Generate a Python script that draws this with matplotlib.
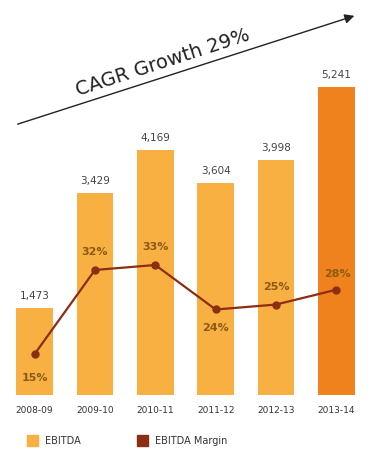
import matplotlib.pyplot as plt
from matplotlib.patches import Rectangle, FancyArrowPatch

# EBITDA (Rs. crore) and EBITDA margin (%) by financial year
years = ['2008-09', '2009-10', '2010-11', '2011-12', '2012-13', '2013-14']
ebitda = [1473, 3429, 4169, 3604, 3998, 5241]
margin = [15, 32, 33, 24, 25, 28]
ebitda_labels = ['1,473', '3,429', '4,169', '3,604', '3,998', '5,241']
margin_labels = ['15%', '32%', '33%', '24%', '25%', '28%']

BAR = '#F9B043'
BAR_LAST = '#F0821E'
LINE = '#8B2E14'
PCT = '#8A5A14'


def main():
    fig = plt.figure(figsize=(3.7, 4.62), dpi=100)
    ax = fig.add_axes([4.5 / 370, 67 / 462, 362 / 370, 385 / 462])
    ax2 = ax.twinx()

    x = list(range(len(years)))
    colors = [BAR] * (len(years) - 1) + [BAR_LAST]
    ax.bar(x, ebitda, width=0.61, color=colors, zorder=1)
    for xi, v, lab in zip(x, ebitda, ebitda_labels):
        ax.annotate(lab, (xi, v), xytext=(0, 5), textcoords='offset points',
                    ha='center', va='bottom', fontsize=7.5, color='#444444')
    ax.set_xlim(-0.5, 5.5)
    ax.set_ylim(0, 6548)

    ax2.plot(x, margin, color=LINE, lw=1.6, marker='o', ms=5, zorder=3)
    # label offsets (points) so the percentages sit clear of the line
    offsets = [(0, -17), (0, 13), (0, 13), (0, -13), (0, 13), (1, 11)]
    for xi, v, lab, off in zip(x, margin, margin_labels, offsets):
        ax2.annotate(lab, (xi, v), xytext=off, textcoords='offset points',
                     ha='center', va='center', fontsize=8, fontweight='bold',
                     color=PCT)
    ax2.set_ylim(6.7, 84.6)

    for a in (ax, ax2):
        for s in a.spines.values():
            s.set_visible(False)
        a.set_yticks([])
    ax.set_xticks(x)
    ax.set_xticklabels(years, fontsize=6.5, color='#333333')
    ax.tick_params(axis='x', length=0, pad=8)

    # growth arrow across the top
    fig.patches.append(FancyArrowPatch(
        (15 / 370, 1 - 125 / 462), (357 / 370, 1 - 15 / 462),
        transform=fig.transFigure, arrowstyle='-|>', mutation_scale=14,
        color='#222222', lw=1.0))
    fig.text(163 / 370, 1 - 63 / 462, 'CAGR Growth 29%', fontsize=14,
             rotation=18, ha='center', va='center', color='#222222',
             rotation_mode='anchor')

    # legend
    fig.patches.append(Rectangle((27 / 370, 1 - 446 / 462), 11 / 370, 11 / 462,
                                 transform=fig.transFigure, color=BAR))
    fig.text(45 / 370, 1 - 441 / 462, 'EBITDA', fontsize=7, va='center',
             color='#333333')
    fig.patches.append(Rectangle((137 / 370, 1 - 446 / 462), 11 / 370, 11 / 462,
                                 transform=fig.transFigure, color=LINE))
    fig.text(155 / 370, 1 - 441 / 462, 'EBITDA Margin', fontsize=7,
             va='center', color='#333333')

    plt.savefig('out.png', dpi=100)


if __name__ == '__main__':
    main()
